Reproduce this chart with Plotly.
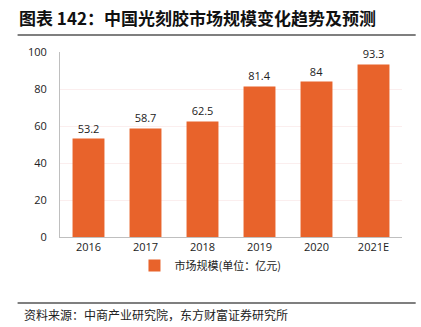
import plotly.graph_objects as go

categories = ["2016", "2017", "2018", "2019", "2020", "2021E"]
values = [53.2, 58.7, 62.5, 81.4, 84, 93.3]
value_labels = ["53.2", "58.7", "62.5", "81.4", "84", "93.3"]
y_ticks = [0, 20, 40, 60, 80, 100]

CJK = "Noto Sans CJK SC"

fig = go.Figure()
fig.add_trace(go.Bar(
    x=categories, y=values, text=value_labels, textposition="outside",
    textfont=dict(size=11, color="#222", family="Open Sans"),
    marker=dict(color="#E8632B", line=dict(width=0)),
    width=0.56, name="市场规模(单位：亿元)", cliponaxis=False,
))

fig.update_layout(
    width=421, height=327,
    margin=dict(l=60, r=19, t=52, b=90),
    plot_bgcolor="white", paper_bgcolor="white",
    showlegend=True,
    legend=dict(orientation="h", x=0.44, xanchor="center", y=-0.075, yanchor="top",
                font=dict(size=11, family=CJK, color="#222"),
                itemsizing="constant", itemwidth=30, tracegroupgap=0),
    yaxis=dict(range=[0, 100], tickvals=y_ticks, showgrid=True, gridcolor="#fbeeee",
               showline=True, linecolor="#bfbfbf", linewidth=1, ticks="",
               tickfont=dict(size=11, family="Open Sans", color="#222"),
               zeroline=False, ticklabelstandoff=10),
    xaxis=dict(showline=True, linecolor="#bfbfbf", linewidth=1, ticks="",
               tickfont=dict(size=11, family="Open Sans", color="#222")),
    font=dict(family=CJK),
)

fig.add_annotation(text="<b>图表 142：中国光刻胶市场规模变化趋势及预测</b>", xref="paper", yref="paper",
                   x=-0.125, y=1.184, xanchor="left", yanchor="middle", showarrow=False,
                   font=dict(size=17, family=CJK, color="#111"))
fig.add_shape(type="line", xref="paper", yref="paper", x0=-0.124, x1=1.04, y0=1.092, y1=1.092,
              line=dict(color="#7f7f7f", width=2))
fig.add_shape(type="line", xref="paper", yref="paper", x0=-0.124, x1=1.04, y0=-0.357, y1=-0.357,
              line=dict(color="#555", width=1.5))
fig.add_annotation(text="资料来源：中商产业研究院，东方财富证券研究所", xref="paper", yref="paper",
                   x=-0.11, y=-0.42, xanchor="left", yanchor="middle", showarrow=False,
                   font=dict(size=12, family=CJK, color="#222"))

fig.write_html("out.html")
